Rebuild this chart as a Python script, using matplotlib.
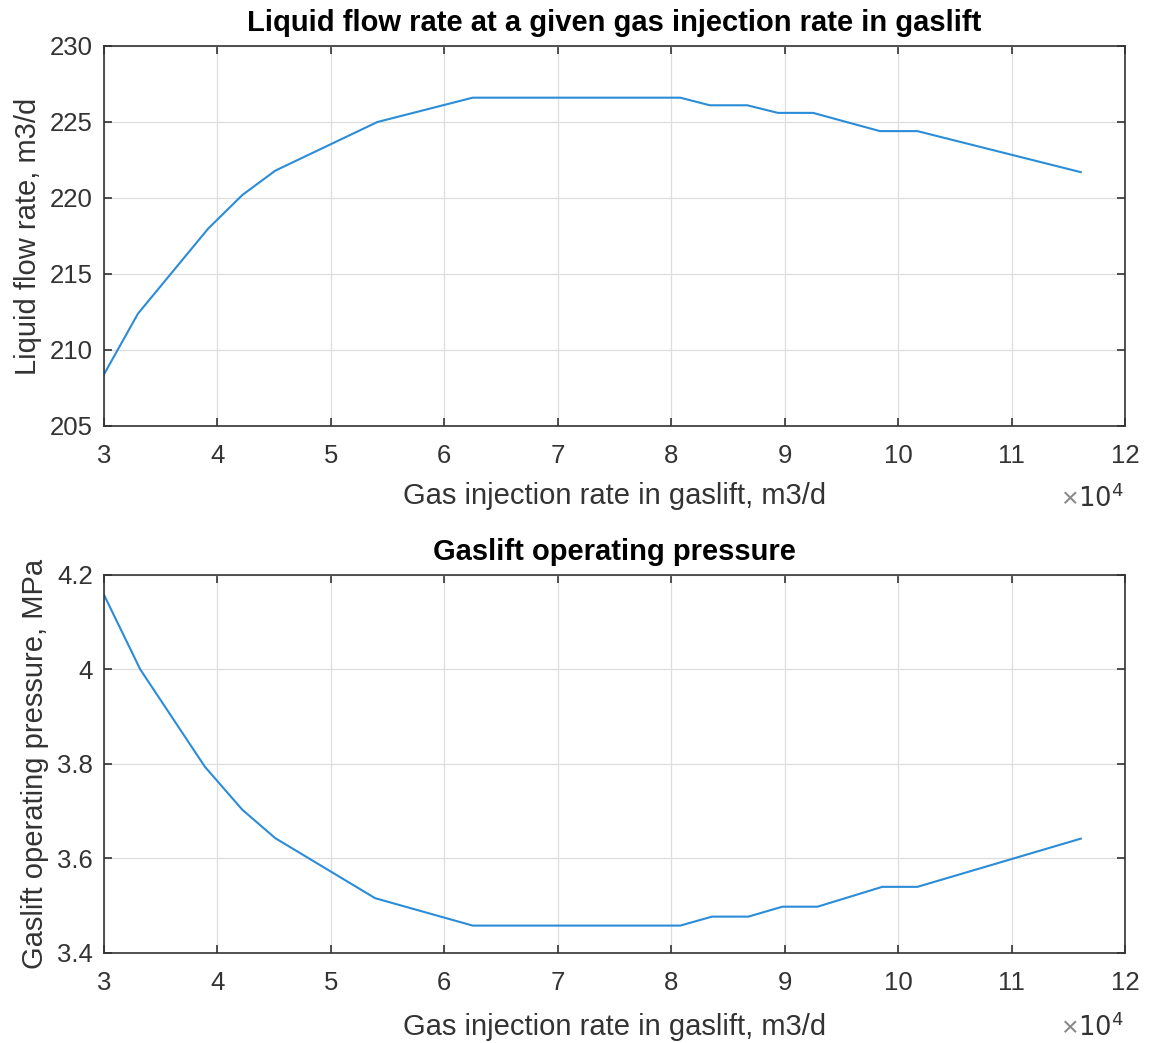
import matplotlib
matplotlib.use("Agg")
import matplotlib.pyplot as plt
from matplotlib.ticker import FuncFormatter, MultipleLocator

plt.rcParams['font.family'] = ['Liberation Sans', 'DejaVu Sans']

# Data (gas injection rate, m3/d)
gas_rate_q = [30000, 33000, 39200, 42200, 45100, 54100, 62500, 80800, 83400, 86700,
              89400, 92500, 98400, 101700, 116100]
liquid_rate = [208.4, 212.4, 218.0, 220.2, 221.8, 225.0, 226.6, 226.6, 226.1, 226.1,
               225.6, 225.6, 224.4, 224.4, 221.7]

gas_rate_p = [30000, 33200, 38900, 42200, 45100, 53900, 62500, 80800, 83600, 86800,
              89800, 92900, 98600, 101700, 116100]
pressure = [4.158, 4.0, 3.794, 3.703, 3.643, 3.516, 3.458, 3.458, 3.477, 3.477,
            3.498, 3.498, 3.54, 3.54, 3.642]

titles = ["Liquid flow rate at a given gas injection rate in gaslift",
          "Gaslift operating pressure"]
xlabel = "Gas injection rate in gaslift, m3/d"
ylabels = ["Liquid flow rate, m3/d", "Gaslift operating pressure, MPa"]

W, H = 1149, 1043
fig = plt.figure(figsize=(W / 100, H / 100), dpi=100)

def axrect(l, t, r, b):
    return [l / W, 1 - b / H, (r - l) / W, (b - t) / H]

ax1 = fig.add_axes(axrect(104, 46, 1125, 426))
ax2 = fig.add_axes(axrect(104, 575, 1125, 953))

line_color = '#2b8cd8'
text_color = '#333333'

for ax, x, y, title, yl, ey, lp in [(ax1, gas_rate_q, liquid_rate, titles[0], ylabels[0], 500, 10),
                                    (ax2, gas_rate_p, pressure, titles[1], ylabels[1], 1029, 13)]:
    ax.plot(x, y, color=line_color, lw=1.5)
    ax.set_xlim(30000, 120000)
    ax.xaxis.set_major_locator(MultipleLocator(10000))
    ax.xaxis.set_major_formatter(FuncFormatter(lambda v, p: f"{v / 1e4:g}"))
    ax.grid(True, color='#dedede', lw=0.9)
    ax.set_axisbelow(True)
    ax.tick_params(direction='in', top=True, right=True, length=6, width=1.2,
                   labelsize=18.5, colors=text_color)
    ax.tick_params(axis='x', pad=13)
    ax.tick_params(axis='y', pad=8)
    for s in ax.spines.values():
        s.set_color('#333333')
        s.set_linewidth(1.2)
    ax.set_title(title, fontsize=21, fontweight='bold', color='black', pad=10.5)
    ax.set_xlabel(xlabel, fontsize=21, color=text_color, labelpad=lp)
    ax.set_ylabel(yl, fontsize=21, color=text_color, labelpad=6)
    # exponent marker, like MATLAB
    fig.text(1078 / W, 1 - ey / H, "\u00d7", ha='right', va='center',
             fontsize=20.5, color='#888888')
    fig.text(1123 / W, 1 - (ey - 2) / H, r"$10^{4}$", ha='right', va='center',
             fontsize=18.5, color=text_color)

ax1.set_ylim(205, 230)
ax1.yaxis.set_major_locator(MultipleLocator(5))
ax2.set_ylim(3.4, 4.2)
ax2.yaxis.set_major_locator(MultipleLocator(0.2))
ax2.yaxis.set_major_formatter(FuncFormatter(lambda v, p: f"{v:g}"))

fig.savefig("out.png", dpi=100, facecolor='white')
